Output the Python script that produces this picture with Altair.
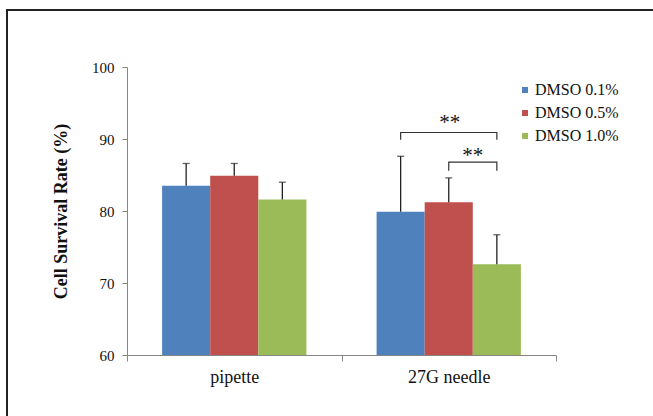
import altair as alt
import pandas as pd

categories = ["pipette", "27G needle"]
series = ["DMSO 0.1%", "DMSO 0.5%", "DMSO 1.0%"]
colors = ["#4F81BD", "#C0504D", "#9BBB59"]
pipette_means = [83.5, 84.9, 81.6]
pipette_errors = [3.1, 1.7, 2.4]
needle_means = [79.9, 81.2, 72.6]
needle_errors = [7.7, 3.4, 4.1]
y_ticks = [60, 70, 80, 90, 100]

# significance brackets: (category, from series, to series, bar level, tip level)
brackets = [
    ("27G needle", "DMSO 0.1%", "DMSO 1.0%", 90.9, 89.9),
    ("27G needle", "DMSO 0.5%", "DMSO 1.0%", 86.8, 85.6),
]
stars_text = ["**", "**"]
stars_series = ["DMSO 0.5%", "DMSO 0.5%"]
stars_y = [92.2, 87.7]
stars_dx = [1, 24]

rows = []
for c, m, e in [("pipette", pipette_means, pipette_errors),
                ("27G needle", needle_means, needle_errors)]:
    for s, mv, ev in zip(series, m, e):
        rows.append({"cat": c, "series": s, "mean": mv, "top": mv + ev})
df = pd.DataFrame(rows)

brows = []
for i, (c, s1, s2, lvl, tip) in enumerate(brackets):
    pts = [(s1, tip), (s1, lvl), (s2, lvl), (s2, tip)]
    for j, (s, y) in enumerate(pts):
        brows.append({"cat": c, "series": s, "y": y, "b": i, "ord": j})
bdf = pd.DataFrame(brows)

sdf = pd.DataFrame({"cat": ["27G needle"] * 2, "series": stars_series,
                    "y": stars_y, "t": stars_text})

SERIF = "Liberation Serif"
GRAY = "#868686"

x_enc = alt.X("cat:N", sort=categories,
              scale=alt.Scale(paddingInner=0, paddingOuter=0),
              axis=alt.Axis(title=None, labelAngle=0, tickBand="extent",
                            domainColor=GRAY, tickColor=GRAY, tickSize=6,
                            labelFont=SERIF, labelFontSize=18, labelColor="#111",
                            labelPadding=7))
xo_enc = alt.XOffset("series:N", sort=series,
                     scale=alt.Scale(paddingInner=0, paddingOuter=0.73))
y_scale = alt.Scale(domain=[60, 100], zero=False, nice=False)

bars = alt.Chart(df).mark_bar().encode(
    x=x_enc,
    xOffset=xo_enc,
    y=alt.Y("mean:Q", scale=y_scale,
            axis=alt.Axis(values=y_ticks, title="Cell Survival Rate (%)",
                          grid=False, domainColor=GRAY, tickColor=GRAY, tickSize=5,
                          labelFont=SERIF, labelFontSize=15, labelColor="#111",
                          labelPadding=8, titleFont=SERIF, titleFontSize=18,
                          titleFontWeight="bold", titleColor="#111",
                          titlePadding=21)),
    y2=alt.datum(60),
    color=alt.Color("series:N", sort=series,
                    scale=alt.Scale(domain=series, range=colors),
                    legend=alt.Legend(orient="none", legendX=390, legendY=15,
                                      title=None, symbolType="square",
                                      symbolSize=36, symbolStrokeWidth=0,
                                      labelFont=SERIF, labelFontSize=16,
                                      labelColor="#111", rowPadding=7,
                                      labelOffset=2, padding=0)),
)

xc = alt.X("cat:N", sort=categories)
xoc = alt.XOffset("series:N", sort=series)

err = alt.Chart(df).mark_rule(color="#222", strokeWidth=1.3).encode(
    x=xc, xOffset=xoc, y="mean:Q", y2="top:Q")
cap = alt.Chart(df).mark_tick(color="#222", size=7, thickness=1.3,
                              orient="horizontal").encode(
    x=xc, xOffset=xoc, y="top:Q")

br = alt.Chart(bdf).mark_line(color="#333", strokeWidth=1.2).encode(
    x=xc, xOffset=xoc, y="y:Q", detail="b:N", order="ord:Q")

stars1 = alt.Chart(sdf.iloc[[0]]).mark_text(font=SERIF, fontSize=21, color="#111",
                                           baseline="middle", dx=stars_dx[0]).encode(
    x=xc, xOffset=xoc, y="y:Q", text="t:N")
stars2 = alt.Chart(sdf.iloc[[1]]).mark_text(font=SERIF, fontSize=21, color="#111",
                                           baseline="middle", dx=stars_dx[1]).encode(
    x=xc, xOffset=xoc, y="y:Q", text="t:N")

frame_left = alt.Chart(df).mark_rule(color="#222", strokeWidth=2).encode(
    x=alt.value(-120), y=alt.value(-58), y2=alt.value(360))
frame_top = alt.Chart(df).mark_rule(color="#222", strokeWidth=2).encode(
    x=alt.value(-121), x2=alt.value(540), y=alt.value(-57))

chart = alt.layer(bars, err, cap, br, stars1, stars2, frame_left, frame_top).properties(
    width=429, height=288,
    autosize=alt.AutoSizeParams(type="none"),
    padding={"left": 127, "top": 67, "right": 97, "bottom": 61},
    background="white",
).configure_view(stroke=None)

chart.save("out.html", embed_options={"renderer": "svg", "actions": False})
